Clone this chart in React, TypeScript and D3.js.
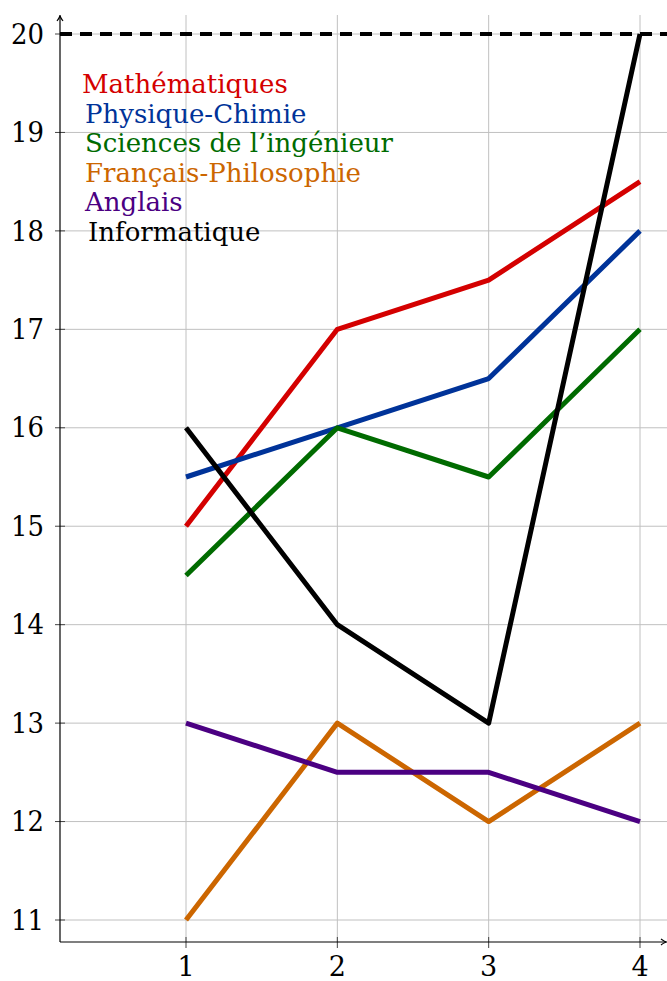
import { useEffect, useRef } from "react";
import * as d3 from "d3";

const width = 667;
const height = 981;

const trimesters = [1, 2, 3, 4];
const yTicks = [11, 12, 13, 14, 15, 16, 17, 18, 19, 20];

const subjects = [
  "Mathématiques",
  "Physique-Chimie",
  "Sciences de l\u2019ingénieur",
  "Français-Philosophie",
  "Anglais",
  "Informatique",
];
const colors = ["#d40000", "#003399", "#006b00", "#cc6600", "#4b0082", "#000000"];

const maths = [15, 17, 17.5, 18.5];
const physique = [15.5, 16, 16.5, 18];
const sciences = [14.5, 16, 15.5, 17];
const francais = [11, 13, 12, 13];
const anglais = [13, 12.5, 12.5, 12];
const informatique = [16, 14, 13, 20];
const series = [maths, physique, sciences, francais, anglais, informatique];

const maxNote = 20;

const font = "DejaVu Serif";

const App = () => {
  const ref = useRef<SVGSVGElement>(null);

  useEffect(() => {
    const svg = d3.select(ref.current);
    svg.selectAll("*").remove();

    const x = d3.scaleLinear().domain([1, 4]).range([186, 640]);
    const y = d3.scaleLinear().domain([11, 20]).range([920, 34]);
    const axisX = 60;
    const axisY = 942;
    const top = 15;
    const right = width;

    // grid
    const grid = svg.append("g").attr("stroke", "#c0c0c0").attr("stroke-width", 1);
    trimesters.forEach((t) => {
      grid.append("line").attr("x1", x(t)).attr("x2", x(t)).attr("y1", top).attr("y2", axisY);
    });
    yTicks.forEach((t) => {
      grid.append("line").attr("x1", axisX).attr("x2", right).attr("y1", y(t)).attr("y2", y(t));
    });

    // ticks
    const ticks = svg.append("g").attr("stroke", "#444").attr("stroke-width", 1);
    trimesters.forEach((t) => {
      ticks.append("line").attr("x1", x(t)).attr("x2", x(t)).attr("y1", axisY - 5).attr("y2", axisY + 6);
    });
    yTicks.forEach((t) => {
      ticks.append("line").attr("x1", axisX - 5).attr("x2", axisX + 5).attr("y1", y(t)).attr("y2", y(t));
    });

    // axes
    const axes = svg.append("g").attr("stroke", "#000").attr("stroke-width", 1.2).attr("fill", "none");
    axes.append("line").attr("x1", axisX).attr("x2", axisX).attr("y1", axisY).attr("y2", top + 1);
    axes.append("line").attr("x1", axisX).attr("x2", right - 1).attr("y1", axisY).attr("y2", axisY);
    axes.append("path").attr("d", `M${axisX - 3},${top + 6} Q${axisX},${top + 2} ${axisX},${top} Q${axisX},${top + 2} ${axisX + 3},${top + 6}`);
    axes.append("path").attr("d", `M${right - 6},${axisY - 3} Q${right - 2},${axisY} ${right},${axisY} Q${right - 2},${axisY} ${right - 6},${axisY + 3}`);

    // tick labels
    svg.append("g")
      .selectAll("text")
      .data(yTicks)
      .join("text")
      .attr("x", 44)
      .attr("y", (d) => y(d))
      .attr("dy", "0.36em")
      .attr("text-anchor", "end")
      .attr("font-family", font)
      .attr("font-size", 27)
      .attr("textLength", 33)
      .attr("lengthAdjust", "spacingAndGlyphs")
      .text((d) => d);
    svg.append("g")
      .selectAll("text")
      .data(trimesters)
      .join("text")
      .attr("x", (d) => x(d))
      .attr("y", 976)
      .attr("text-anchor", "middle")
      .attr("font-family", font)
      .attr("font-size", 27)
      .text((d) => d);

    // max line
    svg.append("line")
      .attr("x1", axisX)
      .attr("x2", right)
      .attr("y1", y(maxNote))
      .attr("y2", y(maxNote))
      .attr("stroke", "#000")
      .attr("stroke-width", 4)
      .attr("stroke-dasharray", "12,8");

    // series
    const line = d3
      .line<number>()
      .x((_, i) => x(trimesters[i]))
      .y((d) => y(d));
    series.forEach((s, i) => {
      svg.append("path")
        .attr("d", line(s))
        .attr("fill", "none")
        .attr("stroke", colors[i])
        .attr("stroke-width", 5)
        .attr("stroke-linejoin", "round");
    });

    // legend
    svg.append("g")
      .selectAll("text")
      .data(subjects)
      .join("text")
      .attr("x", (_, i) => (i === 0 ? 82 : i === 5 ? 88 : 85))
      .attr("y", (_, i) => 93 + i * 29.5)
      .attr("font-family", font)
      .attr("font-size", 26)
      .attr("fill", (_, i) => colors[i])
      .text((d) => d);
  }, []);

  return (
    <svg
      ref={ref}
      width={width}
      height={height}
      style={{ position: "absolute", left: 0, top: 0, background: "#fff" }}
    />
  );
};

export default App;
